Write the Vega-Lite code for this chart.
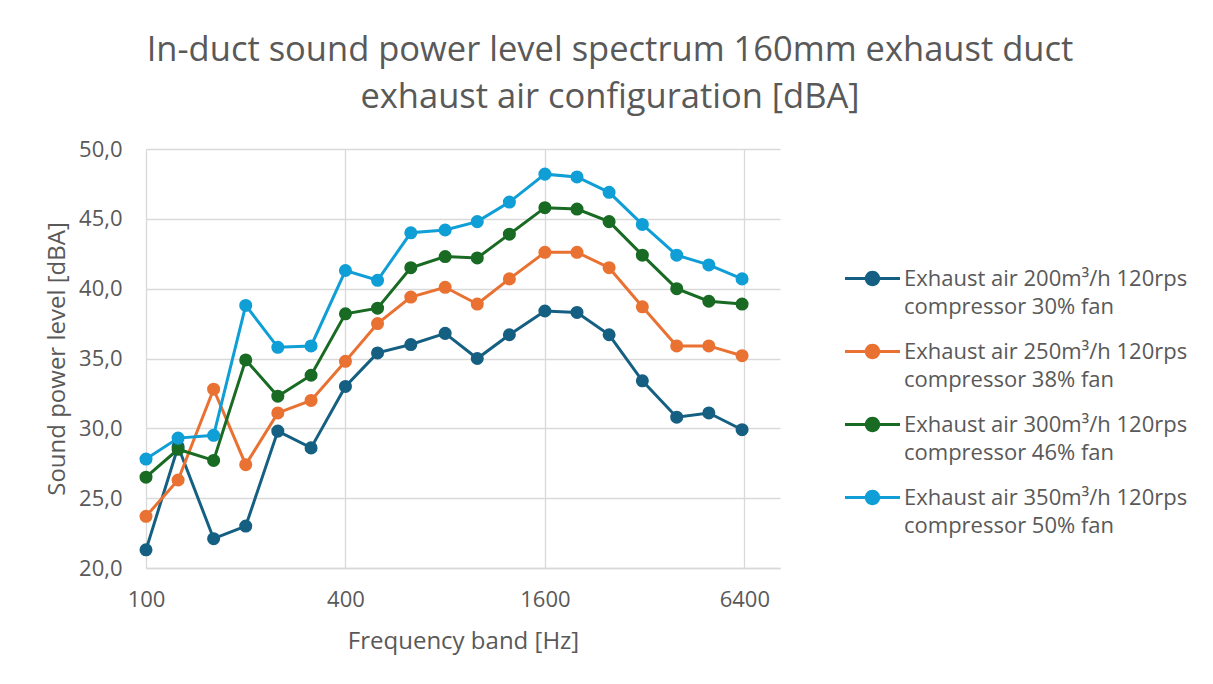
{
  "$schema": "https://vega.github.io/schema/vega-lite/v6.json",
  "width": 634,
  "height": 419,
  "autosize": "none",
  "padding": {"left": 146, "top": 149, "right": 433, "bottom": 116},
  "background": "white",
  "title": {
    "text": ["In-duct sound power level spectrum 160mm exhaust duct", "exhaust air configuration [dBA]"],
    "fontSize": 34.5,
    "lineHeight": 47,
    "font": "Open Sans",
    "fontWeight": "normal",
    "color": "#595959",
    "anchor": "middle",
    "dx": 147,
    "offset": 23
  },
  "config": {
    "font": "Open Sans",
    "view": {"stroke": null},
    "axis": {"labelColor": "#595959", "titleColor": "#595959", "gridColor": "#d9d9d9", "gridWidth": 1.3, "ticks": false, "titleFontWeight": "normal"}
  },
  "data": {"values": [
    {"f":100,"s":"Exhaust air 200m³/h 120rps|compressor 30% fan","v":21.3},
    {"f":125,"s":"Exhaust air 200m³/h 120rps|compressor 30% fan","v":28.7},
    {"f":160,"s":"Exhaust air 200m³/h 120rps|compressor 30% fan","v":22.1},
    {"f":200,"s":"Exhaust air 200m³/h 120rps|compressor 30% fan","v":23.0},
    {"f":250,"s":"Exhaust air 200m³/h 120rps|compressor 30% fan","v":29.8},
    {"f":315,"s":"Exhaust air 200m³/h 120rps|compressor 30% fan","v":28.6},
    {"f":400,"s":"Exhaust air 200m³/h 120rps|compressor 30% fan","v":33.0},
    {"f":500,"s":"Exhaust air 200m³/h 120rps|compressor 30% fan","v":35.4},
    {"f":630,"s":"Exhaust air 200m³/h 120rps|compressor 30% fan","v":36.0},
    {"f":800,"s":"Exhaust air 200m³/h 120rps|compressor 30% fan","v":36.8},
    {"f":1000,"s":"Exhaust air 200m³/h 120rps|compressor 30% fan","v":35.0},
    {"f":1250,"s":"Exhaust air 200m³/h 120rps|compressor 30% fan","v":36.7},
    {"f":1600,"s":"Exhaust air 200m³/h 120rps|compressor 30% fan","v":38.4},
    {"f":2000,"s":"Exhaust air 200m³/h 120rps|compressor 30% fan","v":38.3},
    {"f":2500,"s":"Exhaust air 200m³/h 120rps|compressor 30% fan","v":36.7},
    {"f":3150,"s":"Exhaust air 200m³/h 120rps|compressor 30% fan","v":33.4},
    {"f":4000,"s":"Exhaust air 200m³/h 120rps|compressor 30% fan","v":30.8},
    {"f":5000,"s":"Exhaust air 200m³/h 120rps|compressor 30% fan","v":31.1},
    {"f":6300,"s":"Exhaust air 200m³/h 120rps|compressor 30% fan","v":29.9},
    {"f":100,"s":"Exhaust air 250m³/h 120rps|compressor 38% fan","v":23.7},
    {"f":125,"s":"Exhaust air 250m³/h 120rps|compressor 38% fan","v":26.3},
    {"f":160,"s":"Exhaust air 250m³/h 120rps|compressor 38% fan","v":32.8},
    {"f":200,"s":"Exhaust air 250m³/h 120rps|compressor 38% fan","v":27.4},
    {"f":250,"s":"Exhaust air 250m³/h 120rps|compressor 38% fan","v":31.1},
    {"f":315,"s":"Exhaust air 250m³/h 120rps|compressor 38% fan","v":32.0},
    {"f":400,"s":"Exhaust air 250m³/h 120rps|compressor 38% fan","v":34.8},
    {"f":500,"s":"Exhaust air 250m³/h 120rps|compressor 38% fan","v":37.5},
    {"f":630,"s":"Exhaust air 250m³/h 120rps|compressor 38% fan","v":39.4},
    {"f":800,"s":"Exhaust air 250m³/h 120rps|compressor 38% fan","v":40.1},
    {"f":1000,"s":"Exhaust air 250m³/h 120rps|compressor 38% fan","v":38.9},
    {"f":1250,"s":"Exhaust air 250m³/h 120rps|compressor 38% fan","v":40.7},
    {"f":1600,"s":"Exhaust air 250m³/h 120rps|compressor 38% fan","v":42.6},
    {"f":2000,"s":"Exhaust air 250m³/h 120rps|compressor 38% fan","v":42.6},
    {"f":2500,"s":"Exhaust air 250m³/h 120rps|compressor 38% fan","v":41.5},
    {"f":3150,"s":"Exhaust air 250m³/h 120rps|compressor 38% fan","v":38.7},
    {"f":4000,"s":"Exhaust air 250m³/h 120rps|compressor 38% fan","v":35.9},
    {"f":5000,"s":"Exhaust air 250m³/h 120rps|compressor 38% fan","v":35.9},
    {"f":6300,"s":"Exhaust air 250m³/h 120rps|compressor 38% fan","v":35.2},
    {"f":100,"s":"Exhaust air 300m³/h 120rps|compressor 46% fan","v":26.5},
    {"f":125,"s":"Exhaust air 300m³/h 120rps|compressor 46% fan","v":28.5},
    {"f":160,"s":"Exhaust air 300m³/h 120rps|compressor 46% fan","v":27.7},
    {"f":200,"s":"Exhaust air 300m³/h 120rps|compressor 46% fan","v":34.9},
    {"f":250,"s":"Exhaust air 300m³/h 120rps|compressor 46% fan","v":32.3},
    {"f":315,"s":"Exhaust air 300m³/h 120rps|compressor 46% fan","v":33.8},
    {"f":400,"s":"Exhaust air 300m³/h 120rps|compressor 46% fan","v":38.2},
    {"f":500,"s":"Exhaust air 300m³/h 120rps|compressor 46% fan","v":38.6},
    {"f":630,"s":"Exhaust air 300m³/h 120rps|compressor 46% fan","v":41.5},
    {"f":800,"s":"Exhaust air 300m³/h 120rps|compressor 46% fan","v":42.3},
    {"f":1000,"s":"Exhaust air 300m³/h 120rps|compressor 46% fan","v":42.2},
    {"f":1250,"s":"Exhaust air 300m³/h 120rps|compressor 46% fan","v":43.9},
    {"f":1600,"s":"Exhaust air 300m³/h 120rps|compressor 46% fan","v":45.8},
    {"f":2000,"s":"Exhaust air 300m³/h 120rps|compressor 46% fan","v":45.7},
    {"f":2500,"s":"Exhaust air 300m³/h 120rps|compressor 46% fan","v":44.8},
    {"f":3150,"s":"Exhaust air 300m³/h 120rps|compressor 46% fan","v":42.4},
    {"f":4000,"s":"Exhaust air 300m³/h 120rps|compressor 46% fan","v":40.0},
    {"f":5000,"s":"Exhaust air 300m³/h 120rps|compressor 46% fan","v":39.1},
    {"f":6300,"s":"Exhaust air 300m³/h 120rps|compressor 46% fan","v":38.9},
    {"f":100,"s":"Exhaust air 350m³/h 120rps|compressor 50% fan","v":27.8},
    {"f":125,"s":"Exhaust air 350m³/h 120rps|compressor 50% fan","v":29.3},
    {"f":160,"s":"Exhaust air 350m³/h 120rps|compressor 50% fan","v":29.5},
    {"f":200,"s":"Exhaust air 350m³/h 120rps|compressor 50% fan","v":38.8},
    {"f":250,"s":"Exhaust air 350m³/h 120rps|compressor 50% fan","v":35.8},
    {"f":315,"s":"Exhaust air 350m³/h 120rps|compressor 50% fan","v":35.9},
    {"f":400,"s":"Exhaust air 350m³/h 120rps|compressor 50% fan","v":41.3},
    {"f":500,"s":"Exhaust air 350m³/h 120rps|compressor 50% fan","v":40.6},
    {"f":630,"s":"Exhaust air 350m³/h 120rps|compressor 50% fan","v":44.0},
    {"f":800,"s":"Exhaust air 350m³/h 120rps|compressor 50% fan","v":44.2},
    {"f":1000,"s":"Exhaust air 350m³/h 120rps|compressor 50% fan","v":44.8},
    {"f":1250,"s":"Exhaust air 350m³/h 120rps|compressor 50% fan","v":46.2},
    {"f":1600,"s":"Exhaust air 350m³/h 120rps|compressor 50% fan","v":48.2},
    {"f":2000,"s":"Exhaust air 350m³/h 120rps|compressor 50% fan","v":48.0},
    {"f":2500,"s":"Exhaust air 350m³/h 120rps|compressor 50% fan","v":46.9},
    {"f":3150,"s":"Exhaust air 350m³/h 120rps|compressor 50% fan","v":44.6},
    {"f":4000,"s":"Exhaust air 350m³/h 120rps|compressor 50% fan","v":42.4},
    {"f":5000,"s":"Exhaust air 350m³/h 120rps|compressor 50% fan","v":41.7},
    {"f":6300,"s":"Exhaust air 350m³/h 120rps|compressor 50% fan","v":40.7}
  ]},
  "encoding": {
    "x": {
      "field": "f", "type": "quantitative",
      "scale": {"type": "log", "base": 4, "domain": [100, 8200], "nice": false},
      "axis": {"values": [100, 400, 1600, 6400], "format": "d", "title": "Frequency band [Hz]", "labelFontSize": 22, "titleFontSize": 24, "labelPadding": 21, "titlePadding": 19, "labelFlush": false, "labelBound": false, "domainColor": "#d9d9d9", "domainWidth": 1.3}
    },
    "y": {
      "field": "v", "type": "quantitative",
      "scale": {"domain": [20, 50], "nice": false, "zero": false},
      "axis": {"values": [20, 25, 30, 35, 40, 45, 50], "labelExpr": "replace(format(datum.value, '.1f'), '.', ',')", "title": "Sound power level [dBA]", "labelFontSize": 22, "titleFontSize": 24, "labelPadding": 24, "titlePadding": 9, "labelFlush": false, "domain": false}
    },
    "color": {
      "field": "s", "type": "nominal",
      "scale": {"range": ["#156082", "#E97132", "#196B24", "#0F9ED5"]},
      "legend": {
        "title": null,
        "orient": "none",
        "legendX": 699,
        "legendY": 102,
        "symbolType": "M-1,-0.055 H1 V0.055 H-1 Z M-0.28,0 A0.28,0.28 0 1,1 0.28,0 A0.28,0.28 0 1,1 -0.28,0 Z",
        "symbolSize": 3025,
        "symbolStrokeWidth": 0,
        "labelFontSize": 22,
        "labelColor": "#595959",
        "labelOffset": 4,
        "labelLimit": 400,
        "rowPadding": 6,
        "labelExpr": "split(datum.label, '|')",
        "encode": {
          "symbols": {"update": {"fill": {"scale": "color", "field": "value"}, "strokeWidth": {"value": 0}, "opacity": {"value": 1}}},
          "labels": {"update": {"lineHeight": {"value": 28}}}
        }
      }
    }
  },
  "layer": [
    {"mark": {"type": "line", "strokeWidth": 3}},
    {"mark": {"type": "point", "filled": true, "size": 170, "opacity": 1, "shape": "circle"}}
  ]
}
